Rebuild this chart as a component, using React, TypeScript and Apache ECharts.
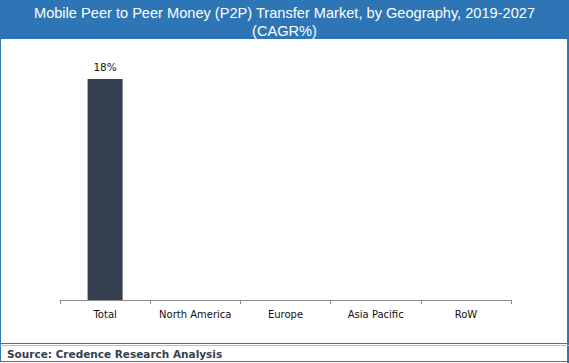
import React, { useEffect, useRef } from "react";
import * as echarts from "echarts";

const titleLines = ["Mobile Peer to Peer Money (P2P) Transfer Market, by Geography, 2019-2027", "(CAGR%)"];
const categories = ["Total", "North America", "Europe", "Asia Pacific", "RoW"];
const cagrValues: (number | null)[] = [18, null, null, null, null];
const sourceText = "Source: Credence Research Analysis";

export default function App() {
  const ref = useRef<HTMLDivElement>(null);
  useEffect(() => {
    const chart = echarts.init(ref.current!, null, { renderer: "svg" });
    const blue = "#2E75B6";
    chart.setOption({
      animation: false,
      backgroundColor: "#ffffff",
      title: {
        text: titleLines.join("\n"),
        left: "center",
        top: 4,
        padding: 0,
        textStyle: {
          color: "#ffffff",
          fontFamily: "Liberation Sans",
          fontWeight: "normal",
          fontSize: 14.6,
          lineHeight: 18,
        },
      },
      graphic: [
        { type: "rect", z: -10, shape: { x: 0, y: 0, width: 569, height: 39 }, style: { fill: blue } },
        { type: "rect", z: -10, shape: { x: 0.5, y: 0.5, width: 567, height: 361 }, style: { fill: "none", stroke: blue, lineWidth: 1 } },
        { type: "rect", z: -10, shape: { x: 567, y: 0, width: 2, height: 363 }, style: { fill: blue } },
        { type: "line", shape: { x1: 0, y1: 343.5, x2: 569, y2: 343.5 }, style: { stroke: blue, lineWidth: 1 } },
        { type: "line", shape: { x1: 0, y1: 345.5, x2: 569, y2: 345.5 }, style: { stroke: "#9DC3E6", lineWidth: 1 } },
        { type: "line", shape: { x1: 0, y1: 361.5, x2: 569, y2: 361.5 }, style: { stroke: blue, lineWidth: 1 } },
        {
          type: "text",
          x: 7,
          y: 354,
          style: {
            text: sourceText,
            fill: "#333F50",
            font: "bold 10.5px 'DejaVu Sans'",
            textVerticalAlign: "middle",
          },
        },
      ],
      grid: { left: 60, right: 58, top: 79, bottom: 63 },
      xAxis: {
        type: "category",
        data: categories,
        axisLine: { lineStyle: { color: "#8c8c8c" } },
        axisTick: { show: true, alignWithLabel: false, length: 4, lineStyle: { color: "#8c8c8c" } },
        axisLabel: { color: "#111", fontFamily: "DejaVu Sans", fontSize: 10, margin: 9, interval: 0 },
      },
      yAxis: { type: "value", min: 0, max: 18, show: false, splitLine: { show: false } },
      series: [
        {
          type: "bar",
          data: cagrValues,
          barWidth: 35,
          itemStyle: { color: "#333F50" },
          label: {
            show: true,
            position: "top",
            formatter: "{c}%",
            color: "#111",
            fontFamily: "DejaVu Sans",
            fontSize: 10.5,
            distance: 7,
          },
        },
      ],
    });
    return () => chart.dispose();
  }, []);
  return <div ref={ref} style={{ position: "fixed", left: 0, top: 0, width: 569, height: 363 }} />;
}
